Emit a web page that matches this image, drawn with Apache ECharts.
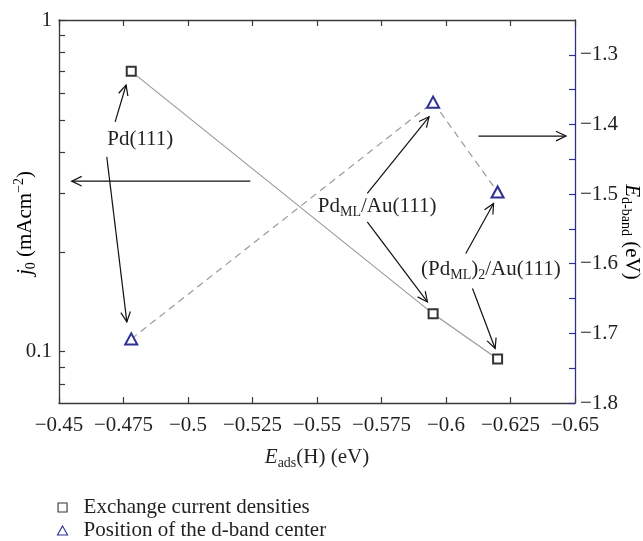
<!DOCTYPE html>
<html><head><meta charset="utf-8">
<script src="https://cdn.jsdelivr.net/npm/echarts@6/dist/echarts.min.js"></script>
<style>html,body{margin:0;padding:0;background:#fff}#c{width:643px;height:541px}</style>
</head><body><div id="c"></div>
<script>
// ---- data ----
const eads = [-0.478, -0.595, -0.620];          // E_ads(H) (eV)
const j0 = [0.70, 0.130, 0.095];                // exchange current density (mA cm^-2)
const edband = [-1.708, -1.368, -1.497];        // d-band centre (eV)
const seriesNames = ['Exchange current densities', 'Position of the d-band center'];
const leftLabelValues = [0.1, 1];
const leftTickValues = [0.08, 0.09, 0.1, 0.2, 0.3, 0.4, 0.5, 0.6, 0.7, 0.8, 0.9, 1];
const rightLabelValues = [-1.8, -1.7, -1.6, -1.5, -1.4, -1.3];
const rightTickValues = [-1.8, -1.75, -1.7, -1.65, -1.6, -1.55, -1.5, -1.45, -1.4, -1.35, -1.3];
// annotations in data coordinates (x: E_ads, y: E_d-band axis)
const annoTexts = [
  {text: '{n|Pd(111)}', x: -0.4815, y: -1.421},
  {text: '{n|Pd}{s|ML}{n|/Au(111)}', x: -0.5733, y: -1.5173},
  {text: '{n|(Pd}{s|ML}{n|)}{s|2}{n|/Au(111)}', x: -0.6174, y: -1.6079}
];
const arrows = [
  [-0.47175, -1.3962, -0.47602, -1.3434],
  [-0.46852, -1.4465, -0.47629, -1.6836],
  [-0.52417, -1.4814, -0.45493, -1.4814],
  [-0.61260, -1.4167, -0.64650, -1.4167],
  [-0.56949, -1.4991, -0.59342, -1.3890],
  [-0.56949, -1.5399, -0.59280, -1.6549],
  [-0.60767, -1.5853, -0.61843, -1.5134],
  [-0.61027, -1.6356, -0.61905, -1.7218]
];

const FONT = 'Liberation Serif';
const INK = '#231f20';
const NAVY = '#2e3192';
const AX = '#3a3a3a';
const FS = 21;
const minus = s => s.replace('-', '\u2212');
const rich = {
  n: {fontFamily: FONT, fontSize: FS, color: INK, lineHeight: 26},
  i: {fontFamily: FONT, fontSize: FS, color: INK, lineHeight: 26, fontStyle: 'italic'},
  s: {fontFamily: FONT, fontSize: 14, color: INK, lineHeight: 14, verticalAlign: 'bottom'},
  p: {fontFamily: FONT, fontSize: 14, color: INK, lineHeight: 14, verticalAlign: 'top'}
};

const chart = echarts.init(document.getElementById('c'), null, {renderer: 'canvas'});
const xBase = {
  type: 'value', min: -0.65, max: -0.45, interval: 0.025, inverse: true,
  axisLine: {onZero: false, lineStyle: {color: AX, width: 1.3}},
  axisTick: {inside: true, length: 6, lineStyle: {color: AX, width: 1.2}},
  splitLine: {show: false}
};
chart.setOption({
  animation: false,
  backgroundColor: '#fff',
  grid: {left: 59, right: 68, top: 20, bottom: 138, containLabel: false, outerBoundsMode: 'none'},
  xAxis: [
    Object.assign({}, xBase, {
      position: 'bottom',
      axisLabel: {fontFamily: FONT, fontSize: FS, color: INK, margin: 12,
        formatter: v => minus(String(+v.toFixed(3)))},
      name: '{i|E}{s|ads}{n|(H) (eV)}', nameLocation: 'middle', nameGap: 41,
      nameTextStyle: {rich: rich}
    }),
    Object.assign({}, xBase, {position: 'top', axisLabel: {show: false}})
  ],
  yAxis: [
    {
      type: 'log', logBase: 10, min: 0.07, max: 1, position: 'left',
      axisLine: {onZero: false, lineStyle: {color: AX, width: 1.3}},
      axisTick: {inside: true, length: 6, customValues: leftTickValues, lineStyle: {color: AX, width: 1.2}},
      axisLabel: {customValues: leftLabelValues, fontFamily: FONT, fontSize: FS, color: INK, margin: 7,
        formatter: v => String(+(+v).toPrecision(3))},
      splitLine: {show: false}, minorTick: {show: false}
    },
    {
      type: 'value', min: -1.8, max: -1.25, interval: 0.1, position: 'right',
      axisLine: {onZero: false, lineStyle: {color: NAVY, width: 1.3}},
      axisTick: {inside: true, length: 6, customValues: rightTickValues, lineStyle: {color: NAVY, width: 1.2}},
      axisLabel: {customValues: rightLabelValues, fontFamily: FONT, fontSize: FS, color: INK, margin: 5,
        formatter: v => minus((+v).toFixed(1))},
      splitLine: {show: false}
    }
  ],
  legend: {
    orient: 'vertical', left: 57, top: 496, height: 60, padding: 0,
    itemWidth: 32, itemHeight: 9, itemGap: 0,
    textStyle: {fontFamily: FONT, fontSize: FS, color: INK, lineHeight: 23},
    data: [
      {name: seriesNames[0], icon: 'path://M0,0H10V10H0Z',
        itemStyle: {color: '#fff', borderColor: '#333', borderWidth: 1.1}},
      {name: seriesNames[1], icon: 'path://M5,0L10,9L0,9Z',
        itemStyle: {color: '#fff', borderColor: NAVY, borderWidth: 1.1}}
    ]
  },
  series: [
    {
      name: seriesNames[0], type: 'line', xAxisIndex: 0, yAxisIndex: 0,
      data: eads.map((x, k) => [x, j0[k]]),
      symbol: 'emptyRect', symbolSize: 9,
      itemStyle: {color: '#333', borderWidth: 1.2},
      lineStyle: {color: '#9a9a9a', width: 1.2}, z: 3
    },
    {
      name: seriesNames[1], type: 'line', xAxisIndex: 0, yAxisIndex: 1,
      data: eads.map((x, k) => [x, edband[k]]),
      symbol: 'emptyTriangle', symbolSize: [12, 11],
      itemStyle: {color: NAVY, borderWidth: 1.2},
      lineStyle: {color: '#9a9a9a', width: 1.2, type: [7, 5]}, z: 3
    }
  ]
});

function toPx(x, y) { return chart.convertToPixel({seriesIndex: 1}, [x, y]); }
const g = [];
arrows.forEach(a => {
  const p0 = toPx(a[0], a[1]), p1 = toPx(a[2], a[3]);
  const dx = p1[0] - p0[0], dy = p1[1] - p0[1], L = Math.hypot(dx, dy);
  const ux = dx / L, uy = dy / L, hl = 10, hw = 4.8;
  g.push({type: 'polyline', silent: true, shape: {points: [p0, p1]},
    style: {stroke: '#111', lineWidth: 1.2, fill: null}, z: 10});
  g.push({type: 'polyline', silent: true, shape: {points: [
    [p1[0] - hl * ux + hw * uy, p1[1] - hl * uy - hw * ux], p1,
    [p1[0] - hl * ux - hw * uy, p1[1] - hl * uy + hw * ux]]},
    style: {stroke: '#111', lineWidth: 1.2, fill: null}, z: 10});
});
annoTexts.forEach(t => {
  const p = toPx(t.x, t.y);
  g.push({type: 'text', silent: true, x: p[0], y: p[1], z: 11,
    style: {text: t.text, rich: rich, align: 'center', verticalAlign: 'middle', fill: INK}});
});
// rotated axis titles
g.push({type: 'text', silent: true, x: 25, y: 223, rotation: Math.PI / 2, z: 11,
  style: {text: '{i|j}{s|0}{n| (mAcm}{p|\u22122}{n|)}', rich: rich, align: 'center', verticalAlign: 'middle'}});
g.push({type: 'text', silent: true, x: 632, y: 232, rotation: -Math.PI / 2, z: 11,
  style: {text: '{i|E}{s|d-band}{n| (eV)}', rich: rich, align: 'center', verticalAlign: 'middle'}});
chart.setOption({graphic: g});
</script>
</body></html>
